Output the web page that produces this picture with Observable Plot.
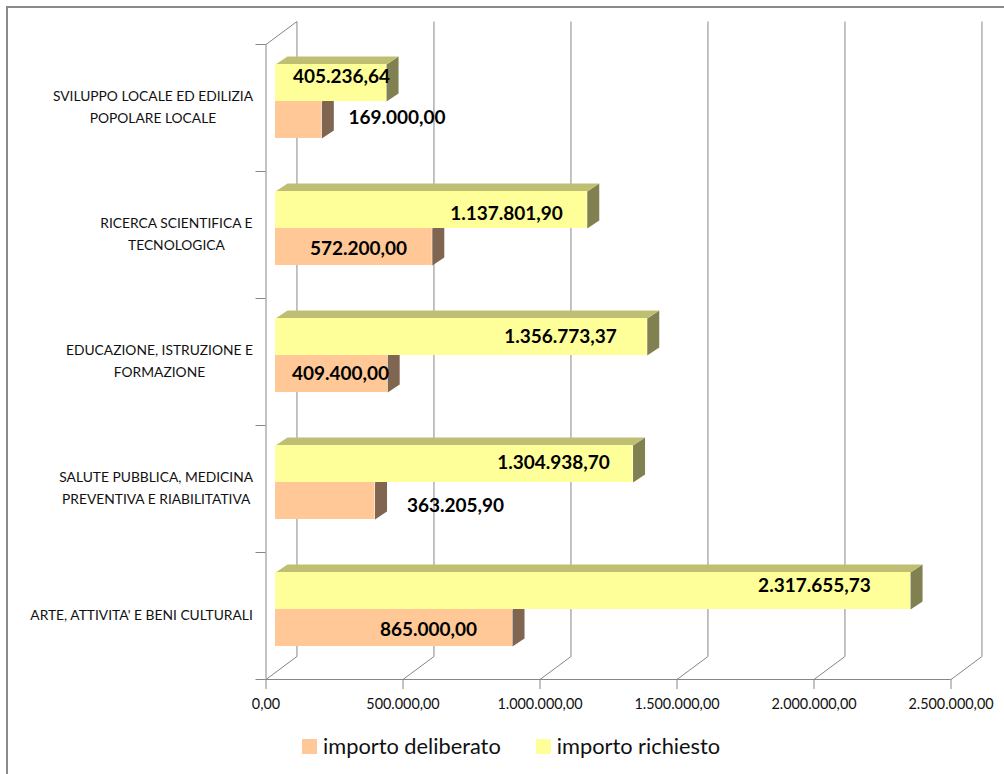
<!DOCTYPE html>
<html>
<head>
<meta charset="utf-8">
<script src="https://cdn.jsdelivr.net/npm/d3@7"></script>
<script src="https://cdn.jsdelivr.net/npm/@observablehq/plot@0.6"></script>
<style>
  html, body { margin: 0; padding: 0; background: #fff; width: 1004px; height: 774px; overflow: hidden; }
  body { position: relative; font-family: Lato, sans-serif; }
  #frame { position: absolute; left: 6px; top: 6px; right: 0; bottom: 0; border-left: 2px solid #8a8a8a; border-top: 2px solid #8a8a8a; pointer-events: none; }
  #legend { position: absolute; left: 302px; top: 730px; display: flex; align-items: center; font-size: 21.8px; color: #111; line-height: 32px; }
  #legend span.sw { display: inline-block; width: 15px; height: 15px; margin-right: 6px; }
  #legend span.tx { margin-right: 35px; }
  svg { display: block; }
</style>
</head>
<body>
<div id="frame"></div>
<div id="chart"></div>
<div id="legend"></div>
<script>
const categories = [
  "ARTE, ATTIVITA' E BENI CULTURALI",
  "SALUTE PUBBLICA, MEDICINA\nPREVENTIVA E RIABILITATIVA",
  "EDUCAZIONE, ISTRUZIONE E\nFORMAZIONE",
  "RICERCA SCIENTIFICA E\nTECNOLOGICA",
  "SVILUPPO LOCALE ED EDILIZIA\nPOPOLARE LOCALE"
];
const deliberato = [865000.00, 363205.90, 409400.00, 572200.00, 169000.00];
const richiesto  = [2317655.73, 1304938.70, 1356773.37, 1137801.90, 405236.64];
const xTicks = [0, 500000, 1000000, 1500000, 2000000, 2500000];
const legendNames = ["importo deliberato", "importo richiesto"];

// label nudges (px) relative to each bar's value position, manual layout as in the original
const richDx = [-86.6, -70.1, -77.3, -71.3, -35.5];
const richDy = [-5.5, -1, 0, 4, -6.5];
const delDx  = [-74.5, 90, -37.7, -64.3, 84.7];
const delDy  = [2, 5, 0, 2, -2];

// pseudo-3D projection, in scale units
const wallDx = 113000, wallDy = 0.181;   // depth of the back wall
const barDx = 43800, barDy = 0.063;      // depth of a bar
const barBase = 34700;                   // bars stand away from the axis
const barTop = 0.8425, barMid = 0.5512, barBot = 0.26; // fractions of slot, from slot bottom
const grey = "#868686";

const YEL = "#FFFF99", YEL_TOP = "#BFBF73", YEL_SIDE = "#808050";
const ORG = "#FFC896", ORG_SIDE = "#806650";

const itFmt = d3.formatLocale({decimal: ",", thousands: ".", grouping: [3], currency: ["", ""]}).format(",.2f");

function faces(values, yHi, yLo, withTop) {
  const out = [];
  values.forEach((v, i) => {
    const x1 = barBase, x2 = v + barBase, hi = i + yHi, lo = i + yLo;
    [[x2, lo], [x2, hi], [x2 + barDx, hi + barDy], [x2 + barDx, lo + barDy]]
      .forEach(([x, y]) => out.push({x, y, z: "s" + i, face: "side"}));
    if (withTop) {
      [[x1, hi], [x2, hi], [x2 + barDx, hi + barDy], [x1 + barDx, hi + barDy]]
        .forEach(([x, y]) => out.push({x, y, z: "t" + i, face: "top"}));
    }
  });
  return out;
}
const delFaces = faces(deliberato, barMid, barBot, false);
const richFaces = faces(richiesto, barTop, barMid, true);

const ctx = document.createElement("canvas").getContext("2d");
const catFont = 13.8;
ctx.font = catFont + "px Lato";
const catMarks = categories.map((c, i) => {
  const w = d3.max(c.split("\n"), s => ctx.measureText(s).width);
  return Plot.text([c], {
    x: () => 0, y: () => i + 0.5, text: d => d,
    textAnchor: "middle", dx: -13 - w / 2, dy: -3, lineHeight: 1.62,
    fontSize: catFont, fill: "#111"
  });
});
const valText = (values, dxs, dys) => values.map((v, i) => Plot.text([v], {
  x: d => d, y: () => i + (values === richiesto ? (barTop + barMid) / 2 : (barMid + barBot) / 2),
  text: d => itFmt(d), dx: dxs[i], dy: dys[i],
  fontSize: 19, fontWeight: 700, fill: "#000", textAnchor: "middle"
}));

const plot = Plot.plot({
  width: 1004, height: 730,
  marginLeft: 265.5, marginRight: 53.5, marginTop: 44, marginBottom: 51,
  style: {fontFamily: "Lato, sans-serif", background: "transparent"},
  x: {domain: [0, 2500000]},
  y: {domain: [0, 5]},
  marks: [
    // back wall grid and floor diagonals
    Plot.link(xTicks, {x1: d => d + wallDx, x2: d => d + wallDx, y1: () => wallDy, y2: () => 5 + wallDy, stroke: grey}),
    Plot.link(xTicks, {x1: d => d, x2: d => d + wallDx, y1: () => 0, y2: () => wallDy, stroke: grey}),
    Plot.link([0], {x1: d => d, x2: d => d + wallDx, y1: () => 5, y2: () => 5 + wallDy, stroke: grey}),
    Plot.ruleX([0], {stroke: grey}),
    Plot.ruleY([0], {stroke: grey}),
    Plot.axisX({ticks: xTicks, tickFormat: itFmt, tickSize: 10, tickPadding: 9, fontSize: 14.4, stroke: grey, fill: "#111", label: null}),
    Plot.axisY({ticks: [0, 1, 2, 3, 4, 5], tickSize: 10, tickFormat: () => "", stroke: grey, label: null}),
    // deliberato bars
    Plot.line(delFaces, {x: "x", y: "y", z: "z", fill: ORG_SIDE, stroke: "none"}),
    Plot.rect(deliberato, {x1: () => barBase, x2: d => d + barBase, y1: (d, i) => i + barBot, y2: (d, i) => i + barMid, fill: ORG}),
    // richiesto bars
    Plot.line(richFaces, {x: "x", y: "y", z: "z", fill: d => d.face === "top" ? YEL_TOP : YEL_SIDE, stroke: "none"}),
    Plot.rect(richiesto, {x1: () => barBase, x2: d => d + barBase, y1: (d, i) => i + barMid, y2: (d, i) => i + barTop, fill: YEL}),
    ...catMarks,
    ...valText(richiesto, richDx, richDy),
    ...valText(deliberato, delDx, delDy)
  ]
});
document.getElementById("chart").append(plot);

const legend = document.getElementById("legend");
[ORG, YEL].forEach((c, i) => {
  const s = document.createElement("span"); s.className = "sw"; s.style.background = c;
  const t = document.createElement("span"); t.className = "tx"; t.textContent = legendNames[i];
  legend.append(s, t);
});
</script>
</body>
</html>
